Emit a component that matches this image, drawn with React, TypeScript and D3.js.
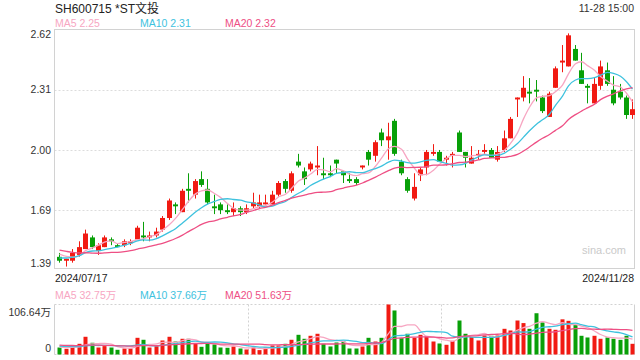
import React, { useRef, useEffect } from 'react';
import * as d3 from 'd3';

// header / labels
const title = 'SH600715 *ST文投';
const timeLabel = '11-28 15:00';
const dateLabels = ['2024/07/17', '2024/11/28'];
const priceTicks = [1.39, 1.69, 2.0, 2.31, 2.62];

// daily candles 2024/07/17 .. 2024/11/28
const opens = [
  1.45, 1.43, 1.43, 1.46, 1.49, 1.55, 1.48, 1.50, 1.54, 1.51,
  1.51, 1.52, 1.54, 1.56, 1.55, 1.56, 1.59, 1.65, 1.72, 1.68,
  1.80, 1.77, 1.85, 1.80, 1.71, 1.72, 1.69, 1.68, 1.70, 1.68,
  1.71, 1.71, 1.72, 1.72, 1.77, 1.84, 1.79, 1.94, 1.89, 1.90,
  1.91, 1.88, 1.88, 1.95, 1.89, 1.85, 1.85, 1.91, 1.99, 1.97,
  2.09, 2.05, 2.15, 1.94, 1.85, 1.75, 1.87, 1.91, 1.98, 1.99,
  1.95, 1.97, 2.09, 1.99, 1.93, 1.97, 1.99, 2.00, 1.95, 2.00,
  2.06, 2.26, 2.27, 2.30, 2.31, 2.27, 2.17, 2.32, 2.45, 2.43,
  2.52, 2.41, 2.33, 2.24, 2.33, 2.41, 2.31, 2.30, 2.27, 2.18,
];
const closes = [
  1.43, 1.44, 1.47, 1.50, 1.57, 1.50, 1.51, 1.55, 1.53, 1.50,
  1.53, 1.53, 1.60, 1.55, 1.56, 1.58, 1.65, 1.74, 1.71, 1.79,
  1.79, 1.84, 1.82, 1.73, 1.70, 1.69, 1.68, 1.70, 1.68, 1.70,
  1.73, 1.73, 1.73, 1.77, 1.83, 1.80, 1.88, 1.92, 1.85, 1.93,
  1.92, 1.87, 1.87, 1.93, 1.87, 1.84, 1.83, 1.92, 1.95, 2.04,
  2.05, 2.07, 1.98, 1.88, 1.79, 1.81, 1.90, 1.99, 1.99, 1.94,
  1.96, 1.98, 1.99, 1.96, 1.96, 1.98, 2.00, 1.96, 1.99, 2.06,
  2.16, 2.27, 2.32, 2.29, 2.30, 2.20, 2.29, 2.42, 2.46, 2.59,
  2.46, 2.34, 2.32, 2.34, 2.43, 2.34, 2.24, 2.27, 2.18, 2.21,
];
const highs = [
  1.47, 1.44, 1.49, 1.53, 1.59, 1.56, 1.52, 1.56, 1.55, 1.52,
  1.54, 1.54, 1.61, 1.63, 1.58, 1.60, 1.66, 1.75, 1.73, 1.80,
  1.88, 1.85, 1.89, 1.85, 1.77, 1.73, 1.72, 1.73, 1.71, 1.72,
  1.78, 1.77, 1.77, 1.79, 1.84, 1.85, 1.89, 1.98, 1.91, 1.94,
  2.02, 1.96, 1.92, 1.95, 1.89, 1.88, 1.86, 1.92, 2.00, 2.05,
  2.11, 2.14, 2.16, 1.95, 1.86, 1.88, 1.91, 2.00, 2.03, 2.00,
  1.97, 1.99, 2.10, 1.99, 2.02, 2.00, 2.03, 2.01, 2.02, 2.10,
  2.17, 2.27, 2.38, 2.37, 2.36, 2.28, 2.30, 2.43, 2.54, 2.60,
  2.54, 2.50, 2.34, 2.37, 2.46, 2.45, 2.38, 2.34, 2.28, 2.26,
];
const lows = [
  1.42, 1.40, 1.42, 1.45, 1.49, 1.49, 1.46, 1.50, 1.51, 1.50,
  1.50, 1.51, 1.54, 1.53, 1.53, 1.55, 1.58, 1.64, 1.67, 1.68,
  1.73, 1.75, 1.81, 1.72, 1.67, 1.67, 1.67, 1.66, 1.66, 1.67,
  1.70, 1.70, 1.72, 1.72, 1.76, 1.78, 1.78, 1.91, 1.82, 1.89,
  1.87, 1.85, 1.86, 1.88, 1.83, 1.83, 1.82, 1.90, 1.92, 1.94,
  2.02, 1.95, 1.97, 1.87, 1.78, 1.74, 1.84, 1.87, 1.97, 1.94,
  1.92, 1.91, 1.99, 1.91, 1.93, 1.95, 1.98, 1.96, 1.94, 1.99,
  2.06, 2.17, 2.25, 2.24, 2.25, 2.19, 2.17, 2.32, 2.40, 2.43,
  2.46, 2.34, 2.24, 2.24, 2.31, 2.33, 2.23, 2.26, 2.16, 2.16,
];
// volume, 万股
const volumes = [
  14.9, 12.2, 15.8, 22.8, 37.8, 25.0, 14.9, 17.9, 14.9, 10.0,
  12.8, 12.8, 35.6, 31.4, 14.9, 17.9, 29.9, 37.8, 27.7, 33.5,
  33.5, 22.8, 16.4, 25.6, 21.3, 14.9, 14.3, 17.1, 12.8, 10.7,
  14.9, 9.4, 14.9, 19.2, 19.2, 22.8, 31.4, 42.0, 33.5, 39.9,
  44.2, 22.8, 17.1, 25.6, 27.7, 12.8, 12.8, 17.1, 35.6, 27.7,
  35.6, 106.64, 93.9, 35.0, 44.2, 35.6, 42.0, 38.4, 27.7, 23.5,
  20.7, 29.2, 72.5, 44.2, 37.1, 29.9, 40.5, 39.9, 40.5, 54.8,
  51.2, 72.5, 67.0, 54.8, 88.0, 68.3, 54.8, 52.7, 75.0, 71.8,
  63.25, 39.9, 36.3, 39.9, 33.5, 36.3, 33.5, 31.25, 39.9, 22.8,
];
// sessions before the window, only feeding the moving averages
const preCloses = [
  1.58, 1.57, 1.56, 1.55, 1.54, 1.52, 1.51, 1.49, 1.48, 1.46,
  1.44, 1.43, 1.42, 1.41, 1.42, 1.50, 1.49, 1.46, 1.44,
];
const preVolumes = [
  24, 20, 25, 21, 22, 19, 23, 22, 24, 20,
  21, 19, 20, 22, 18, 17, 15, 18, 15.1,
];

const UP = '#f11a12';
const DOWN = '#08a008';
const MA_COLORS = ['#f7a6c2', '#3ec2de', '#ee4f84'];
const MA_DAYS = [5, 10, 20];
const FONT = '"Liberation Sans", Arial, "Noto Sans CJK SC", sans-serif';

const movingAvg = (vals: number[], pre: number[], n: number) => {
  const all = pre.concat(vals);
  return vals.map((_, i) => {
    const end = pre.length + i;
    return d3.mean(all.slice(end - n + 1, end + 1)) as number;
  });
};

const App = () => {
  const ref = useRef<SVGSVGElement>(null);

  useEffect(() => {
    const svg = d3.select(ref.current);
    svg.selectAll('*').remove();

    const left = 54.5, right = 634.5;
    const top = 29.5, bottom = 268.5;
    const vTop = 304.5, vBottom = 354.5;

    const x = d3.scaleBand<number>()
      .domain(d3.range(closes.length))
      .range([56.1, 635.7]);
    const cx = (i: number) => Math.round((x(i) as number) + x.bandwidth() / 2);

    const y = d3.scaleLinear()
      .domain([priceTicks[0], priceTicks[priceTicks.length - 1]])
      .range([bottom, top]);
    const yv = d3.scaleLinear()
      .domain([0, d3.max(volumes) as number])
      .range([vBottom, vTop]);

    const txt = (tx: number, ty: number, s: string, size: number, fill: string, anchor = 'start') =>
      svg.append('text')
        .attr('x', tx).attr('y', ty)
        .attr('font-family', FONT)
        .attr('font-size', size)
        .attr('fill', fill)
        .attr('text-anchor', anchor)
        .text(s);

    // header
    txt(55, 12.5, title, 12, '#222');
    txt(634, 12, timeLabel, 10.5, '#333', 'end');

    // price grid + frame
    priceTicks.slice(1, -1).forEach(v => {
      svg.append('line')
        .attr('x1', left).attr('x2', right)
        .attr('y1', Math.round(y(v)) + 0.5).attr('y2', Math.round(y(v)) + 0.5)
        .attr('stroke', '#dcdcdc').attr('stroke-dasharray', '2,2');
    });
    svg.append('rect')
      .attr('x', left).attr('y', top)
      .attr('width', right - left).attr('height', bottom - top)
      .attr('fill', 'none').attr('stroke', '#d2d2d2');

    priceTicks.forEach((v, i) => {
      let ty = y(v) + 3.7;
      if (i === 0) ty = bottom - 1.5;
      if (i === priceTicks.length - 1) ty = top + 8;
      txt(51, ty, v.toFixed(2), 10.5, '#333', 'end');
    });

    txt(582, 254, 'sina.com', 11, '#cacaca');

    // candles
    const candles = svg.append('g');
    closes.forEach((c, i) => {
      const o = opens[i];
      const col = c >= o ? UP : DOWN;
      const px = cx(i);
      candles.append('line')
        .attr('x1', px + 0.5).attr('x2', px + 0.5)
        .attr('y1', y(highs[i])).attr('y2', y(lows[i]))
        .attr('stroke', col).attr('stroke-width', 1);
      const yt = y(Math.max(o, c));
      const yb = y(Math.min(o, c));
      candles.append('rect')
        .attr('x', px - 2).attr('width', 5)
        .attr('y', yt).attr('height', Math.max(1, yb - yt))
        .attr('fill', col);
    });

    // price MAs
    const line = d3.line<number>()
      .x((_, i) => cx(i) + 0.5)
      .curve(d3.curveMonotoneX);
    const priceMA = MA_DAYS.map(n => movingAvg(closes, preCloses, n));
    priceMA.forEach((m, k) => {
      svg.append('path')
        .attr('d', line.y(d => y(d))(m))
        .attr('fill', 'none')
        .attr('stroke', MA_COLORS[k])
        .attr('stroke-width', 1.3);
    });
    const legendX = [55, 140, 225];
    priceMA.forEach((m, k) => {
      txt(legendX[k], 27, `MA${MA_DAYS[k]} ${m[m.length - 1].toFixed(2)}`, 10.5, MA_COLORS[k]);
    });

    // dates
    txt(55, 281.5, dateLabels[0], 10.5, '#222');
    txt(634, 281.5, dateLabels[1], 10.5, '#222', 'end');

    // volume panel
    const volMA = MA_DAYS.map(n => movingAvg(volumes, preVolumes, n));
    volMA.forEach((m, k) => {
      txt(legendX[k], 299, `MA${MA_DAYS[k]} ${m[m.length - 1].toFixed(2)}万`, 10.5, MA_COLORS[k]);
    });
    [vTop, vBottom].forEach(yy => {
      svg.append('line')
        .attr('x1', left).attr('x2', right)
        .attr('y1', yy).attr('y2', yy)
        .attr('stroke', '#d2d2d2').attr('stroke-dasharray', '2,2');
    });
    [left, right].forEach(xx => {
      svg.append('line')
        .attr('x1', xx).attr('x2', xx)
        .attr('y1', vTop).attr('y2', vBottom)
        .attr('stroke', '#d2d2d2');
    });
    [1, 2].forEach(k => {
      const xx = Math.round(left + (right - left) * k / 3) + 0.5;
      svg.append('line')
        .attr('x1', xx).attr('x2', xx)
        .attr('y1', vTop).attr('y2', vBottom)
        .attr('stroke', '#d2d2d2').attr('stroke-dasharray', '2,2');
    });

    const vmax = d3.max(volumes) as number;
    txt(51, 315.5, `${vmax.toFixed(2)}万`, 10.5, '#333', 'end');
    txt(51, 351.5, '0', 10.5, '#333', 'end');

    svg.append('g')
      .selectAll('rect')
      .data(volumes)
      .enter()
      .append('rect')
      .attr('x', (_, i) => cx(i) - 1.5)
      .attr('width', 4)
      .attr('y', d => yv(d))
      .attr('height', d => vBottom - yv(d))
      .attr('fill', (_, i) => (closes[i] >= opens[i] ? UP : DOWN));

    volMA.forEach((m, k) => {
      svg.append('path')
        .attr('d', line.y(d => yv(d))(m))
        .attr('fill', 'none')
        .attr('stroke', MA_COLORS[k])
        .attr('stroke-width', 1.3);
    });
  }, []);

  return (
    <svg
      ref={ref}
      width={640}
      height={360}
      style={{ position: 'absolute', left: 0, top: 0, background: '#fff' }}
    />
  );
};

export default App;
